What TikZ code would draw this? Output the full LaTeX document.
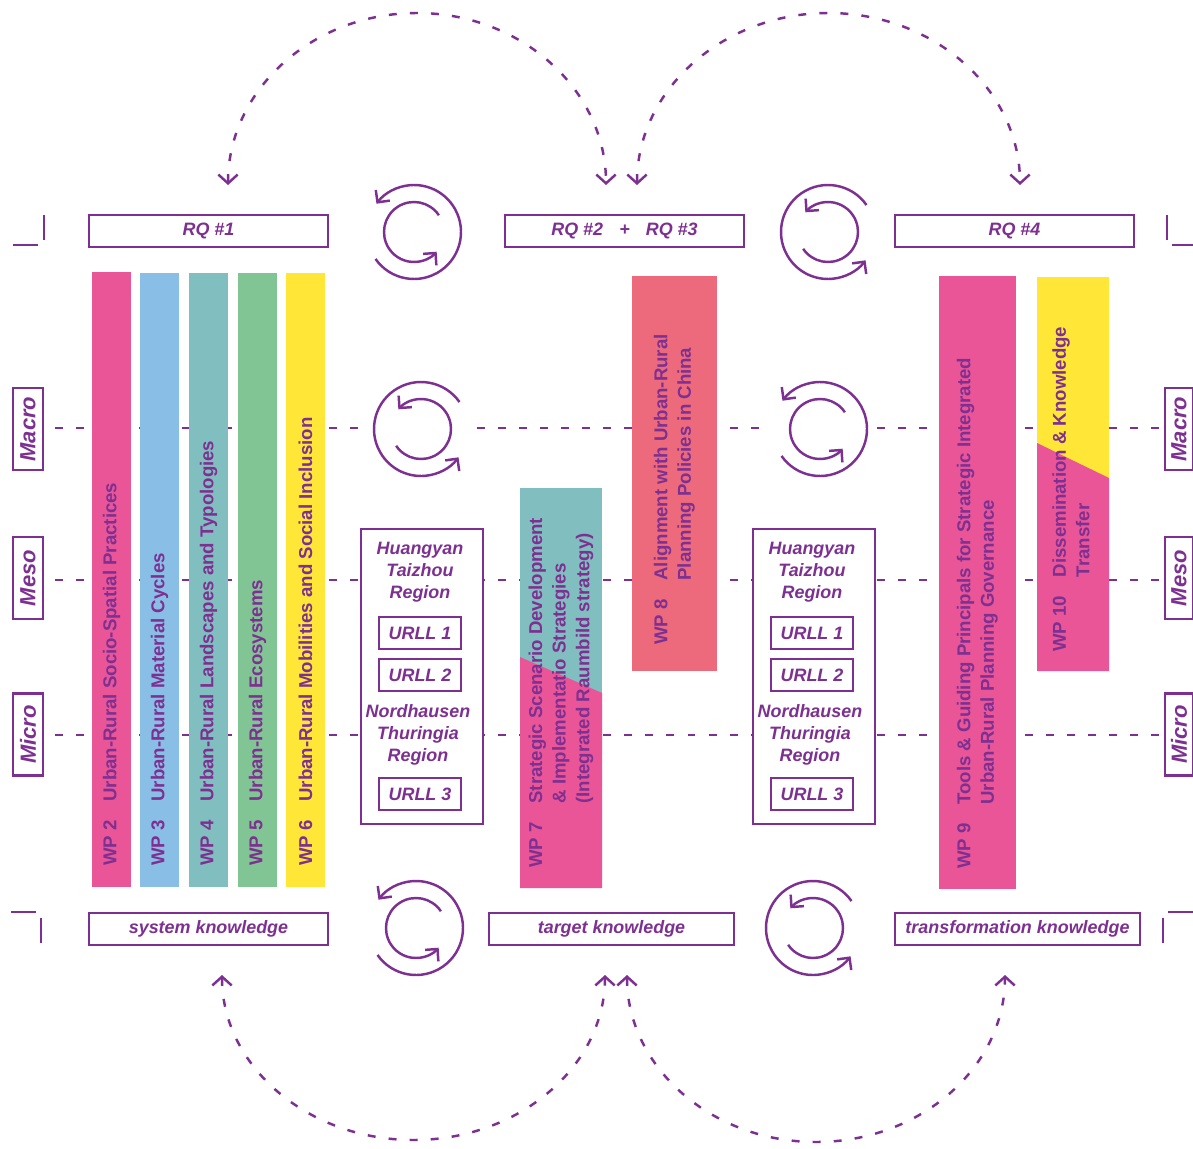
\documentclass[tikz,border=0pt]{standalone}
\usepackage{fontspec}
\setmainfont{Liberation Sans}
\usetikzlibrary{arrows.meta}

\definecolor{urlpurple}{RGB}{125,48,145}
\definecolor{wppink}{RGB}{233,85,151}
\definecolor{wpblue}{RGB}{137,190,230}
\definecolor{wpteal}{RGB}{128,190,192}
\definecolor{wpgreen}{RGB}{130,197,149}
\definecolor{wpyellow}{RGB}{255,230,55}
\definecolor{wpsalmon}{RGB}{236,106,124}

\tikzset{
    cycleicon/.pic={
        \fill[white] (0,0) circle[radius=50];
        \draw[cyclearrow] (145:47) arc[start angle=145, end angle=-143, radius=47];
        \draw[cyclearrow] (-34:30) arc[start angle=-34, end angle=-319, radius=30];
    }
}

\begin{document}
\begin{tikzpicture}[
    x=0.02cm, y=-0.02cm,
    rqbox/.style={rectangle, draw=urlpurple, line width=1.5pt, fill=white, minimum height=0.64cm, inner sep=0pt, text=urlpurple, font=\fontsize{10.2}{12.5}\selectfont\bfseries\itshape},
    levelbox/.style={rectangle, draw=urlpurple, line width=1.5pt, fill=white, rotate=90, minimum width=1.64cm, minimum height=0.6cm, inner sep=0pt, text=urlpurple, font=\fontsize{12.5}{15}\selectfont\bfseries\itshape},
    regionbox/.style={rectangle, draw=urlpurple, line width=1.5pt, fill=white, minimum width=2.44cm, minimum height=5.9cm},
    urllbox/.style={rqbox, minimum width=1.64cm},
    regiontext/.style={align=center, inner sep=0pt, text=urlpurple, font=\fontsize{10.2}{12.5}\selectfont\bfseries\itshape},
    wptext/.style={rotate=90, anchor=west, inner sep=0pt, align=left, text=urlpurple, font=\fontsize{10.6}{13.4}\selectfont\bfseries},
    levelline/.style={draw=urlpurple, line width=1.4pt, dash pattern=on 4.5pt off 7.5pt},
    looparrow/.style={draw=urlpurple, line width=1.4pt, dash pattern=on 4.5pt off 7.5pt, {Straight Barb[length=5pt,width=11pt]}-{Straight Barb[length=5pt,width=11pt]}},
    cyclearrow/.style={draw=urlpurple, line width=1.4pt, -{Straight Barb[length=5pt,width=10pt]}},
    cornermark/.style={draw=urlpurple, line width=1.2pt}
]

    \path[use as bounding box, fill=white] (0,0) rectangle (1193,1149);

    % --- Level Lines (Macro / Meso / Micro) ---
    \foreach \y in {428, 580, 735} {
        \draw[levelline] (55,\y) -- (1160,\y);
    }
    \node[levelbox] (macroL) at (28,429) {Macro};
    \node[levelbox] (mesoL) at (28,578) {Meso};
    \node[levelbox] (microL) at (28,734.5) {Micro};
    \node[levelbox, minimum height=0.56cm] (macroR) at (1179,429) {Macro};
    \node[levelbox, minimum height=0.56cm] (mesoR) at (1179,578) {Meso};
    \node[levelbox, minimum height=0.56cm] (microR) at (1179,734.5) {Micro};

    % --- Corner Marks ---
    \draw[cornermark] (13,245) -- (38,245);
    \draw[cornermark] (44,215) -- (44,240);
    \draw[cornermark] (1167,215) -- (1167,240);
    \draw[cornermark] (1172,245) -- (1193,245);
    \draw[cornermark] (11,912) -- (36,912);
    \draw[cornermark] (41,918) -- (41,943);
    \draw[cornermark] (1163,918) -- (1163,943);
    \draw[cornermark] (1168,912) -- (1193,912);

    % --- Research Questions & Knowledge Types ---
    \node[rqbox, minimum width=4.78cm] (rq1) at (208.5,231) {RQ \#1};
    \node[rqbox, minimum width=4.78cm] (rq23) at (624.5,231) {RQ \#2\hspace{0.9em}+\hspace{0.9em}RQ \#3};
    \node[rqbox, minimum width=4.78cm] (rq4) at (1014.5,231) {RQ \#4};
    \node[rqbox, minimum width=4.78cm] (sysk) at (208.5,929) {system knowledge};
    \node[rqbox, minimum width=4.9cm] (tark) at (611.5,929) {target knowledge};
    \node[rqbox, minimum width=4.9cm] (trak) at (1017.5,929) {transformation knowledge};

    % --- Work Package Bars ---
    \fill[wppink] (92,272) rectangle (131,887);
    \fill[wpblue] (140,273) rectangle (179,887);
    \fill[wpteal] (189,273) rectangle (228,887);
    \fill[wpgreen] (238,273) rectangle (277,887);
    \fill[wpyellow] (286,273) rectangle (325,887);
    \fill[wpteal] (520,488) rectangle (602,888);
    \fill[wppink] (520,657) -- (602,693) -- (602,888) -- (520,888) -- cycle;
    \fill[wpsalmon] (632,276) rectangle (717,671);
    \fill[wppink] (939,276) rectangle (1016,889);
    \fill[wpyellow] (1037,277) rectangle (1109,671);
    \fill[wppink] (1037,443) -- (1109,478) -- (1109,671) -- (1037,671) -- cycle;

    \node[wptext] (wp2) at (111.5,866) {WP 2\quad Urban-Rural Socio-Spatial Practices};
    \node[wptext] (wp3) at (159.5,866) {WP 3\quad Urban-Rural Material Cycles};
    \node[wptext] (wp4) at (208.5,866) {WP 4\quad Urban-Rural Landscapes and Typologies};
    \node[wptext] (wp5) at (257.5,866) {WP 5\quad Urban-Rural Ecosystems};
    \node[wptext] (wp6) at (305.5,866) {WP 6\quad Urban-Rural Mobilities and Social Inclusion};
    \node[wptext] (wp7) at (561,868) {WP 7\quad\begin{tabular}[t]{@{}l@{}}Strategic Scenario Development\\\& Implementatio Strategies\\(Integrated Raumbild strategy)\end{tabular}};
    \node[wptext] (wp8) at (674.5,645) {WP 8\quad\begin{tabular}[t]{@{}l@{}}Alignment with Urban-Rural\\Planning Policies in China\end{tabular}};
    \node[wptext] (wp9) at (977.5,869) {WP 9\quad\begin{tabular}[t]{@{}l@{}}Tools \& Guiding Principals for Strategic Integrated\\Urban-Rural Planning Governance\end{tabular}};
    \node[wptext] (wp10) at (1073,652) {WP 10\quad\begin{tabular}[t]{@{}l@{}}Dissemination \& Knowledge\\Transfer\end{tabular}};

    % --- Living Lab Regions ---
    \foreach \s/\dx in {1/0, 2/392} {
        \node[regionbox] (reg\s) at (422+\dx,676.5) {};
        \node[regiontext] (hty\s) at (420+\dx,572) {Huangyan\\Taizhou\\Region};
        \node[urllbox] (urlla\s) at (420+\dx,633) {URLL 1};
        \node[urllbox] (urllb\s) at (420+\dx,675) {URLL 2};
        \node[regiontext] (ntr\s) at (418+\dx,735) {Nordhausen\\Thuringia\\Region};
        \node[urllbox] (urllc\s) at (420+\dx,794) {URLL 3};
    }

    % --- Iteration Cycles ---
    \pic at (414,232) {cycleicon};
    \pic[rotate=180] at (828,232) {cycleicon};
    \pic[rotate=180] at (421,429) {cycleicon};
    \pic at (820,429) {cycleicon};
    \pic at (416,928) {cycleicon};
    \pic[rotate=180] at (813,928) {cycleicon};

    % --- Feedback Loops ---
    \coordinate (topA) at (228,185);
    \coordinate (topB) at (637,185);
    \coordinate (botA) at (222,975);
    \coordinate (botB) at (627,975);
    \draw[looparrow] (topA) arc[start angle=180, end angle=360, x radius=189, y radius=172];
    \draw[looparrow] (topB) arc[start angle=180, end angle=360, x radius=191.5, y radius=172];
    \draw[looparrow] (botA) arc[start angle=180, end angle=0, x radius=191.5, y radius=165];
    \draw[looparrow] (botB) arc[start angle=180, end angle=0, x radius=189, y radius=167];

\end{tikzpicture}
\end{document}
